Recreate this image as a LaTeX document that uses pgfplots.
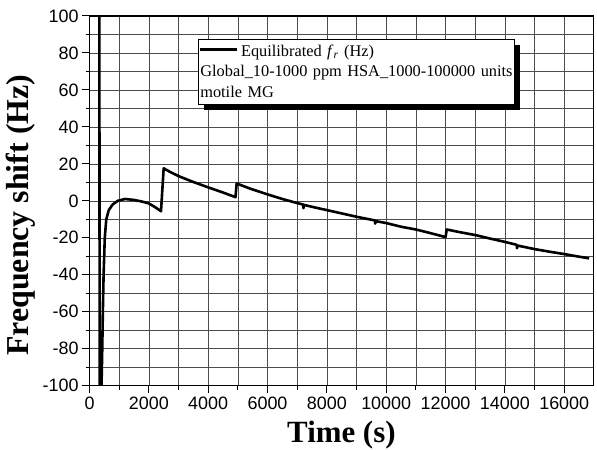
\documentclass[border=0pt]{standalone}
\usepackage{fontspec}
\setmainfont{Liberation Serif}
\newfontfamily\arialfont{Liberation Sans}
\usepackage{pgfplots}
\pgfplotsset{compat=1.18}
\usetikzlibrary{shadows}
\begin{document}
\begin{tikzpicture}
\useasboundingbox (0,0) rectangle (597bp,450bp);
\begin{axis}[
  at={(89.5bp,64.3bp)}, anchor=south west,
  width=503.8bp, height=369.7bp, scale only axis,
  xmin=0, xmax=16980, ymin=-100, ymax=100,
  xtick={0,2000,...,16000}, minor x tick num=1,
  ytick={-100,-80,...,100}, minor y tick num=1,
  grid=both,
  major grid style={black!70, line width=0.6bp},
  minor grid style={black!70, line width=0.6bp},
  axis line style={line width=1.2bp},
  tick style={black, line width=1bp},
  tick align=outside,
  xtick pos=bottom, ytick pos=left,
  major tick length=7.5bp, minor tick length=4bp,
  scaled x ticks=false,
  /pgf/number format/assume math mode=true,
  /pgf/number format/set thousands separator={},
  ticklabel style={font=\arialfont\fontsize{18}{18}\selectfont},
  xlabel={Time (s)},
  ylabel={Frequency shift (Hz)},
  xlabel style={font=\bfseries\fontsize{31}{31}\selectfont, yshift=-5bp},
  ylabel style={font=\bfseries\fontsize{32}{32}\selectfont, at={(ticklabel cs:0.461)}},
  clip=true,
]
\addplot[black, line width=2.6bp, line join=round] table {
x y
330 130
345 -130
370 -140
405 -100
430 -80
450 -60
475 -40
515 -20
565 -10
650 -5
780 -2
950 0
1200 1.0
1500 0.5
1800 -0.5
2000 -1.4
2200 -3.3
2410 -5.6
2500 17.6
2700 15.8
3000 13.4
3500 10.2
4000 7.3
4500 4.5
4920 2.0
4960 9.4
5400 6.7
6000 3.5
6500 1.0
7000 -1.2
7200 -2.0
7210 -4.0
7230 -2.2
7600 -3.6
8000 -5.0
8500 -6.8
9000 -8.6
9620 -10.6
9630 -12.3
9650 -11.0
10000 -12.0
10500 -14.0
11000 -15.5
11500 -17.5
12000 -19.6
12040 -15.5
12500 -17.0
13000 -18.5
13500 -20.4
14000 -22.2
14400 -23.8
14410 -25.6
14430 -24.2
15000 -26.1
15500 -27.5
16000 -28.8
16500 -30.2
16840 -31.1
};
\node[draw=black, line width=0.6bp, fill=white, anchor=north west,
  drop shadow={shadow xshift=5bp, shadow yshift=-5bp, fill=black, opacity=1},
  inner xsep=1.7bp, inner ysep=3bp, text width=312.6bp, align=left,
  font=\fontsize{16.4}{20.7}\selectfont]
  at (rel axis cs:0.216,0.937)
  {\rule{0pt}{13.7bp}\rule[0.3em]{36.7bp}{3bp}\hspace{4bp}Equilibrated \textit{f}\textsubscript{\textit{r}} (Hz)\\
   Global\_10-1000 ppm HSA\_1000-100000 units\\
   motile MG\rule[-4bp]{0pt}{4bp}};
\end{axis}
\end{tikzpicture}
\end{document}
